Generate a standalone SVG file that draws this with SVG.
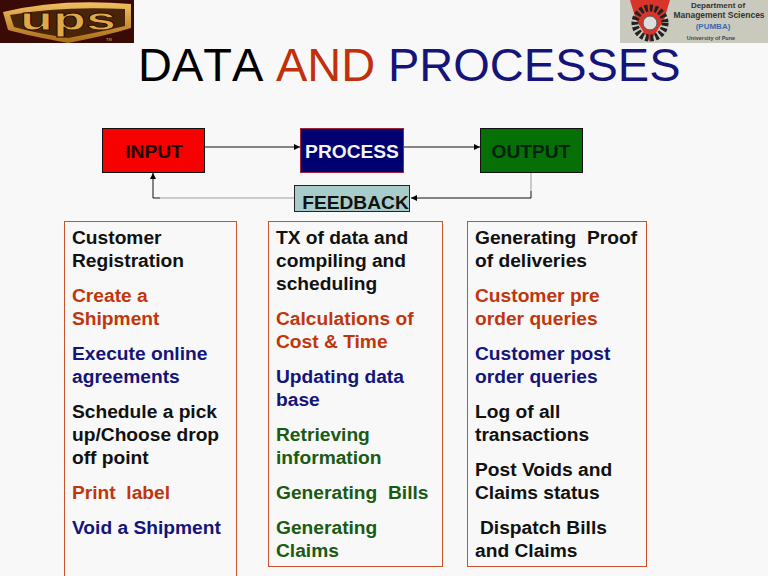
<svg xmlns="http://www.w3.org/2000/svg" width="768" height="576" viewBox="0 0 768 576">
<defs>
<marker id="ah" markerWidth="7" markerHeight="7" refX="6" refY="3" orient="auto" markerUnits="userSpaceOnUse"><path d="M0,0L6,3L0,6Z" fill="#000"/></marker>
<linearGradient id="gold" x1="0" y1="0" x2="0" y2="1"><stop offset="0" stop-color="#f0c060"/><stop offset="1" stop-color="#a86a18"/></linearGradient>
</defs>
<style>
text{font-family:"Liberation Sans",Arial,sans-serif}
.b{font-weight:bold;font-size:19.2px;fill:#000}
.k{fill:#111}.r{fill:#c0360c}.n{fill:#14147a}.g{fill:#1a5a12}
.box{fill:none;stroke:#c8522a;stroke-width:1}
.lbl{font-weight:bold;font-size:19.2px;text-anchor:middle}
.c{fill:none;stroke:#111;stroke-width:1}
</style>
<rect width="768" height="576" fill="#f8f8f8"/>
<g id="ups-logo">
<rect width="134" height="43" fill="#3a0a06"/>
<path d="M3,12Q60,-2 131,4L131,28Q105,36 68,43Q30,36 8,30Z" fill="url(#gold)"/>
<path d="M10,15Q60,6 125,9L125,26Q100,32 68,38Q35,33 14,27Z" fill="#4a2408"/>
<text x="20" y="30" font-size="31" font-weight="bold" fill="#e0a848" stroke="#2a1004" stroke-width="0.8" textLength="96" lengthAdjust="spacingAndGlyphs">ups</text>
<text x="106" y="41" font-size="4" font-weight="bold" fill="#b08040">TM</text>
</g>
<g id="pumba-logo">
<rect x="620" y="0" width="148" height="43" fill="#c9c9bd"/>
<path d="M630,0L670,0L664,20L650,42L636,20Z" fill="#d8342a"/>
<circle cx="650" cy="23" r="15" fill="none" stroke="#222" stroke-width="7" stroke-dasharray="3 2"/>
<circle cx="650" cy="23" r="7" fill="#ddd" stroke="#555"/>
<g text-anchor="middle" font-weight="bold">
<text x="718" y="8" font-size="8" fill="#333">Department of</text>
<text x="719" y="18" font-size="8.500" fill="#333">Management Sciences</text>
<text x="713" y="29" font-size="8" fill="#3a68b0">(PUMBA)</text>
<text x="711" y="40" font-size="5.500" fill="#444">University of Pune</text>
</g>
</g>
<text id="title" y="81" font-size="47" style="font-kerning:none"><tspan x="138" fill="#000">DATA</tspan><tspan x="276" fill="#c0300c">AND</tspan><tspan x="388" fill="#14147a">PROCESSES</tspan></text>
<g id="connectors">
<path class="c" d="M205,147H300" marker-end="url(#ah)" stroke="#444"/>
<path class="c" d="M403,147H480" marker-end="url(#ah)"/>
<path d="M531,173V191" fill="none" stroke="#bbb" stroke-width="1.500"/>
<path class="c" d="M531,191V198H411" marker-end="url(#ah)"/>
<path d="M294,198H160" fill="none" stroke="#bbb" stroke-width="1.500"/>
<path class="c" d="M160,198H153V173" marker-end="url(#ah)"/>
</g>
<g id="input"><rect x="102.500" y="128.500" width="102" height="44" fill="#f60000" stroke="#111"/><text class="lbl" x="154" y="158" fill="#200">INPUT</text></g>
<g id="process"><rect x="300.500" y="128.500" width="103" height="44" fill="#000070" stroke="#a02040"/><text class="lbl" x="352" y="158" fill="#f4f4f4">PROCESS</text></g>
<g id="output"><rect x="480.500" y="128.500" width="102" height="44" fill="#067006" stroke="#111"/><text class="lbl" x="531" y="158" fill="#021">OUTPUT</text></g>
<g id="feedback"><rect x="294.500" y="185.500" width="115" height="26" fill="#a8cccc" stroke="#222"/><text class="lbl" x="355.500" y="209" fill="#111">FEEDBACK</text></g>
<g id="input-list"><rect class="box" x="64.500" y="221.500" width="172" height="360"/>
<g class="b">
<text x="72" y="244" class="k">Customer</text><text x="72" y="267" class="k">Registration</text>
<text x="72" y="302" class="r">Create a</text><text x="72" y="325" class="r">Shipment</text>
<text x="72" y="360" class="n">Execute online</text><text x="72" y="383" class="n">agreements</text>
<text x="72" y="418" class="k">Schedule a pick</text><text x="72" y="441" class="k">up/Choose drop</text><text x="72" y="464" class="k">off point</text>
<text x="72" y="499" class="r" xml:space="preserve">Print  label</text>
<text x="72" y="534" class="n">Void a Shipment</text>
</g></g>
<g id="process-list"><rect class="box" x="268.500" y="221.500" width="174" height="345"/>
<g class="b">
<text x="276" y="244" class="k">TX of data and</text><text x="276" y="267" class="k">compiling and</text><text x="276" y="290" class="k">scheduling</text>
<text x="276" y="325" class="r">Calculations of</text><text x="276" y="348" class="r">Cost &amp; Time</text>
<text x="276" y="383" class="n">Updating data</text><text x="276" y="406" class="n">base</text>
<text x="276" y="441" class="g">Retrieving</text><text x="276" y="464" class="g">information</text>
<text x="276" y="499" class="g" xml:space="preserve">Generating  Bills</text>
<text x="276" y="534" class="g">Generating</text><text x="276" y="557" class="g">Claims</text>
</g></g>
<g id="output-list"><rect class="box" x="467.500" y="221.500" width="179" height="345"/>
<g class="b">
<text x="475" y="244" class="k" xml:space="preserve">Generating  Proof</text><text x="475" y="267" class="k">of deliveries</text>
<text x="475" y="302" class="r">Customer pre</text><text x="475" y="325" class="r">order queries</text>
<text x="475" y="360" class="n">Customer post</text><text x="475" y="383" class="n">order queries</text>
<text x="475" y="418" class="k">Log of all</text><text x="475" y="441" class="k">transactions</text>
<text x="475" y="476" class="k">Post Voids and</text><text x="475" y="499" class="k">Claims status</text>
<text x="480" y="534" class="k">Dispatch Bills</text><text x="475" y="557" class="k">and Claims</text>
</g></g>
</svg>
